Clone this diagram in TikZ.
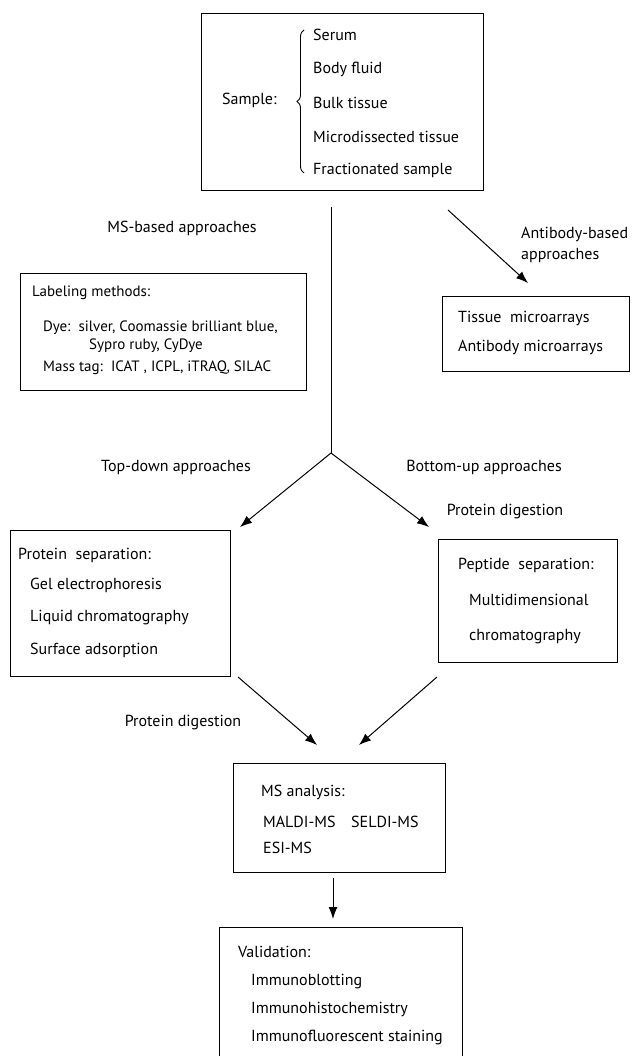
\documentclass[tikz,border=0pt]{standalone}
\usepackage{fontspec}
\setmainfont{PT Sans}
\usetikzlibrary{arrows.meta,decorations.pathreplacing}
\newcommand\fs{\fontsize{16}{19}\selectfont}
\newcommand\fl{\fontsize{15}{18}\selectfont}
\begin{document}
\begin{tikzpicture}[x=1pt,y=-1pt,
  box/.style={draw, line width=1.2pt, inner sep=0pt, anchor=north west},
  txt/.style={anchor=west, inner sep=0pt, font=\fs},
  ltxt/.style={anchor=west, inner sep=0pt, font=\fl},
  ctxt/.style={anchor=center, inner sep=0pt, font=\fs},
  arr/.style={line width=1pt, -{Latex[length=12pt,width=9pt]}},
  ln/.style={line width=1pt}]
\useasboundingbox (0,0) rectangle (632,1056);
\clip (0,0) rectangle (632,1056);
\fill[white] (0,0) rectangle (632,1056);

% Sample box
\node[box, minimum width=282pt, minimum height=177pt] (sample) at (201,13) {};
\node[txt] (samplelbl) at (222,100) {Sample:};
\draw[line width=0.9pt, decorate, decoration={brace, amplitude=7pt}] (304,173) -- (304,30);
\node[txt] (s1) at (313,35) {Serum};
\node[txt] (s2) at (313,69) {Body fluid};
\node[txt] (s3) at (313,103) {Bulk tissue};
\node[txt] (s4) at (313,137) {Microdissected tissue};
\node[txt] (s5) at (313,170) {Fractionated sample};

% MS-based trunk
\node[ctxt] (msbased) at (182,228) {MS-based approaches};
\coordinate (vtop) at (331,207);
\coordinate (junc) at (331,453);
\draw[ln] (vtop) -- (junc);

% Antibody branch
\coordinate (abstart) at (448,210);
\coordinate (abend) at (528,283);
\draw[arr] (abstart) -- (abend);
\node[txt] (ab1) at (521,234) {Antibody-based};
\node[txt] (ab2) at (521,256) {approaches};
\node[box, minimum width=187pt, minimum height=75pt] (tissue) at (442,296) {};
\node[txt] (t1) at (458,318) {Tissue\ \ microarrays};
\node[txt] (t2) at (458,347) {Antibody microarrays};

% Labeling box
\node[box, minimum width=286pt, minimum height=117pt] (label) at (20,273) {};
\node[ltxt] (l1) at (32,293) {Labeling methods:};
\node[ltxt] (l2) at (43,328) {Dye:\ \ silver, Coomassie brilliant blue,};
\node[ltxt] (l3) at (89,346) {Sypro ruby, CyDye};
\node[ltxt] (l4) at (43,368) {Mass tag:\ \ ICAT , ICPL, iTRAQ, SILAC};

% Split
\node[ctxt] (topdown) at (176,467) {Top-down approaches};
\node[ctxt] (bottomup) at (484,467) {Bottom-up approaches};
\node[ctxt] (digr) at (505,512) {Protein digestion};
\coordinate (ltip) at (240,527);
\coordinate (rtip) at (429,527);
\draw[arr] (junc) -- (ltip);
\draw[arr] (junc) -- (rtip);

% Protein separation box
\node[box, minimum width=220pt, minimum height=146pt] (protsep) at (10,530) {};
\node[txt] (p1) at (18,555) {Protein\ \ separation:};
\node[txt] (p2) at (30,585) {Gel electrophoresis};
\node[txt] (p3) at (30,618) {Liquid chromatography};
\node[txt] (p4) at (30,650) {Surface adsorption};

% Peptide separation box
\node[box, minimum width=179pt, minimum height=123pt] (pepsep) at (438,539) {};
\node[txt] (q1) at (458,565) {Peptide\ \ separation:};
\node[txt] (q2) at (469,600) {Multidimensional};
\node[txt] (q3) at (469,637) {chromatography};

% To MS
\coordinate (lfrom) at (238,677);
\coordinate (lto) at (317,745);
\coordinate (rfrom) at (437,677);
\coordinate (rto) at (359,745);
\draw[arr] (lfrom) -- (lto);
\draw[arr] (rfrom) -- (rto);
\node[ctxt] (digl) at (183,723) {Protein digestion};

% MS analysis box
\node[box, minimum width=212pt, minimum height=109pt] (ms) at (233,763) {};
\node[txt] (m1) at (261,792) {MS analysis:};
\node[txt] (m2) at (263,822) {MALDI-MS};
\node[txt] (m3) at (351,822) {SELDI-MS};
\node[txt] (m4) at (263,848) {ESI-MS};

% Down arrow
\coordinate (dfrom) at (333,878);
\coordinate (dto) at (333,919);
\draw[arr] (dfrom) -- (dto);

% Validation box (runs off the bottom)
\node[box, minimum width=243pt, minimum height=160pt] (valid) at (219,927) {};
\node[txt] (v1) at (238,952) {Validation:};
\node[txt] (v2) at (251,982) {Immunoblotting};
\node[txt] (v3) at (251,1009) {Immunohistochemistry};
\node[txt] (v4) at (251,1037) {Immunofluorescent staining};
\end{tikzpicture}
\end{document}
